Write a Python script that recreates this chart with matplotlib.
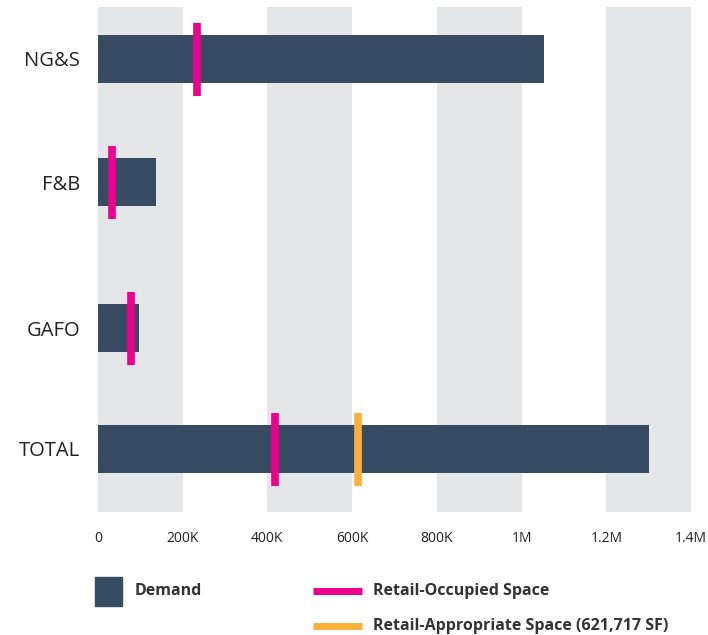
import matplotlib.pyplot as plt
from matplotlib.patches import Rectangle
from matplotlib.lines import Line2D

categories = ["NG&S", "F&B", "GAFO", "TOTAL"]
demand = [1054000, 137000, 97000, 1301000]
occupied = [234000, 32000, 78000, 418000]
appropriate_total = 613000  # drawn on TOTAL row only
ticks = [0, 200000, 400000, 600000, 800000, 1000000, 1200000, 1400000]
tick_labels = ["0", "200K", "400K", "600K", "800K", "1M", "1.2M", "1.4M"]

BAR = "#374c63"
PINK = "#ec008c"
ORANGE = "#fbb03b"
GREY = "#e5e6e8"
FONT = ["Open Sans", "DejaVu Sans"]
plt.rcParams['font.family'] = FONT

W, H = 708, 635
fig = plt.figure(figsize=(W / 100, H / 100), dpi=100)
ax = fig.add_axes([98 / W, 1 - 512 / H, (691 - 98) / W, (512 - 7) / H])

# alternating grey bands every 200K
for i in range(0, len(ticks) - 1, 2):
    ax.axvspan(ticks[i], ticks[i + 1], color=GREY, lw=0, zorder=0)

# row centres in pixel units (y axis runs 7..512 px from top)
ypos = [59, 182, 328, 449]
ax.barh(ypos, demand, height=48, color=BAR, zorder=2)

# marker lines
mh = 36.5
for y, v in zip(ypos, occupied):
    ax.plot([v, v], [y - mh, y + mh], color=PINK, lw=5.5, solid_capstyle='butt', zorder=3)
ax.plot([appropriate_total] * 2, [ypos[-1] - mh, ypos[-1] + mh], color=ORANGE, lw=5.5,
        solid_capstyle='butt', zorder=3)

ax.set_xlim(0, 1400000)
ax.set_ylim(512, 7)
ax.set_yticks(ypos)
ax.set_yticklabels(categories, fontsize=14.5, color="#222222")
ax.set_xticks(ticks)
ax.set_xticklabels(tick_labels, fontsize=10, color="#222222")
ax.tick_params(axis='both', length=0)
ax.tick_params(axis='y', pad=13)
ax.tick_params(axis='x', pad=14)
for s in ax.spines.values():
    s.set_visible(False)

# legend drawn in figure pixel coords
def fx(px):
    return px / W

def fy(py):
    return 1 - py / H

fig.add_artist(Rectangle((fx(95), fy(606)), fx(122) - fx(95), fy(577) - fy(606),
                         color=BAR, transform=fig.transFigure))
fig.text(fx(135), fy(591), "Demand", fontsize=11.5, fontweight='bold', color="#333333", va='center')
fig.add_artist(Line2D([fx(313), fx(362)], [fy(591), fy(591)], color=PINK, lw=5,
                      transform=fig.transFigure, solid_capstyle='butt'))
fig.text(fx(373), fy(591), "Retail-Occupied Space", fontsize=11.5, fontweight='bold',
         color="#333333", va='center')
fig.add_artist(Line2D([fx(313), fx(362)], [fy(626), fy(626)], color=ORANGE, lw=5,
                      transform=fig.transFigure, solid_capstyle='butt'))
fig.text(fx(373), fy(626), "Retail-Appropriate Space (621,717 SF)", fontsize=11.5,
         fontweight='bold', color="#333333", va='center')

fig.savefig("out.png", dpi=100)
